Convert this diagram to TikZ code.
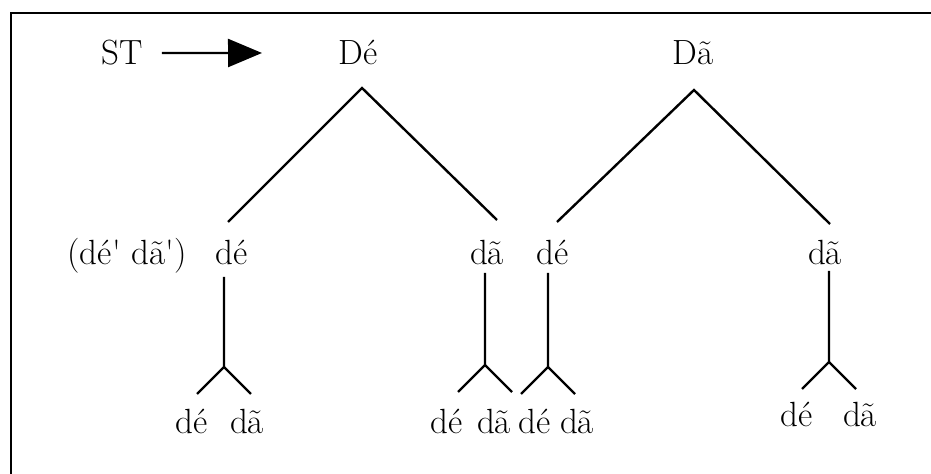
\documentclass[tikz,border=0pt]{standalone}
\usepackage{fontspec}
\usetikzlibrary{arrows.meta}
\begin{document}
\begin{tikzpicture}[x=0.5pt,y=-0.5pt,line width=1.2pt,
    lbl/.style={anchor=base,inner sep=0pt,font=\fontsize{17.5}{20}\selectfont}]
\useasboundingbox (0,0) rectangle (931,474);

% cadre
\draw[line width=1.4pt] (11,474) -- (11,13) -- (931,13);

% ST
\node[lbl] (ST) at (122,65) {ST};
\coordinate (tip) at (262,53);
\draw[-{Triangle[length=17pt,width=14pt]}] ([xshift=9pt]ST.east) -- (tip);

% Dé, Dã
\node[lbl] (De) at (358,65) {Dé};
\node[lbl] (Da) at (693,65) {Dã};
\coordinate (deTop) at (362,88);
\coordinate (daTop) at (694,90);

\node[lbl] (paren) at (127,265) {(dé\textquotesingle{} dã\textquotesingle)};
\node[lbl] (de1) at (232,265) {dé};
\node[lbl] (da1) at (487,265) {dã};
\node[lbl] (de2) at (553,265) {dé};
\node[lbl] (da2) at (825,265) {dã};

\draw (228,222) -- (deTop) -- (497,220);
\draw (557,222) -- (daTop) -- (830,224);

% branches
\foreach \x/\t/\f in {224/277/367, 485/273/365, 548/273/367, 829/271/362}
{
    \draw (\x,\t) -- (\x,\f) -- ++(-27,27);
    \draw (\x,\f) -- ++(27,27);
}

\foreach \x/\w in {192/dé, 247/dã, 447/dé, 494/dã, 535/dé, 577/dã}
{
    \node[lbl] at (\x,434) {\w};
}
\node[lbl] at (797,427) {dé};
\node[lbl] at (860,427) {dã};

\end{tikzpicture}
\end{document}
